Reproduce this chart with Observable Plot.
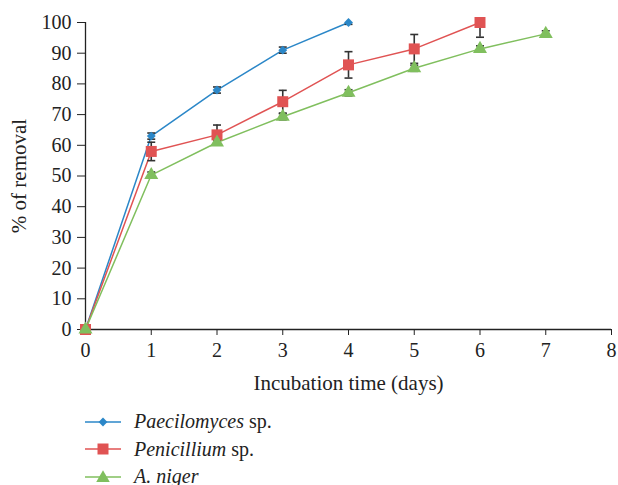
<!DOCTYPE html>
<html>
<head>
<meta charset="utf-8">
<script src="https://cdn.jsdelivr.net/npm/d3@7"></script>
<script src="https://cdn.jsdelivr.net/npm/@observablehq/plot@0.6"></script>
<style>
  html, body { margin: 0; padding: 0; background: #fff; }
  body { width: 618px; height: 485px; overflow: hidden; font-family: "Liberation Serif", serif; }
  #legend { position: relative; margin-left: 85px; margin-top: 8px; }
  .row { display: flex; align-items: center; height: 27.5px; font-size: 20px; color: #222; }
  .row svg { margin-right: 13px; }
</style>
</head>
<body>
<div id="chart"></div>
<div id="legend"></div>
<script>
const days = [0, 1, 2, 3, 4, 5, 6, 7];
const seriesNames = ["Paecilomyces", "Penicillium", "A. niger"];
const suffixes = [" sp.", " sp.", ""];
const colors = ["#2b87c8", "#e05353", "#80bf5e"];
const symbols = ["diamond2", "square", "triangle"];
const paecilomyces = [0, 63, 78, 91, 100];
const paecilomycesErr = [0, 1, 1, 1, 0.6];
const penicillium = [0, 58, 63.4, 74.2, 86.2, 91.4, 100];
const penicilliumErr = [0, 3, 3.2, 3.7, 4.3, 4.7, 4.8];
const aniger = [0, 50.3, 60.9, 69.3, 77.1, 85.1, 91.4, 96.3];
const anigerErr = [0, 1, 0.8, 1, 1, 1, 1, 1];
const xTicks = [0, 1, 2, 3, 4, 5, 6, 7, 8];
const yTicks = [0, 10, 20, 30, 40, 50, 60, 70, 80, 90, 100];

const values = [paecilomyces, penicillium, aniger];
const errs = [paecilomycesErr, penicilliumErr, anigerErr];
const data = [];
values.forEach((vals, s) => vals.forEach((v, i) => data.push({
  series: seriesNames[s], day: days[i], value: v, err: errs[s][i]
})));
const errData = data.filter(d => d.err > 0);

const capSymbol = {
  draw(context, size) {
    const w = Math.sqrt(size) / 2;
    context.moveTo(-w, 0);
    context.lineTo(w, 0);
  }
};

const chart = Plot.plot({
  width: 618,
  height: 400,
  marginLeft: 85,
  marginRight: 7,
  marginTop: 22,
  marginBottom: 71,
  style: { fontFamily: "Liberation Serif, serif", fontSize: "20px", color: "#222", background: "#fff" },
  x: { domain: [0, 8] },
  y: { domain: [0, 100] },
  color: { domain: seriesNames, range: colors },
  symbol: { domain: seriesNames, range: symbols },
  marks: [
    Plot.axisX({ ticks: xTicks, tickFormat: d => d, tickSize: 6, tickPadding: 7,
      label: null, fontSize: 20 }),
    Plot.axisX({ ticks: [], label: "Incubation time (days)", labelAnchor: "center", labelArrow: "none",
      labelOffset: 60, fontSize: 21 }),
    Plot.axisY({ ticks: yTicks, tickFormat: d => d, tickSize: 8, tickPadding: 6,
      label: null, fontSize: 20 }),
    Plot.axisY({ ticks: [], label: "% of removal", labelAnchor: "center", labelArrow: "none",
      labelOffset: 74, fontSize: 21 }),
    Plot.ruleY([0], { stroke: "#222", strokeWidth: 1.3 }),
    Plot.ruleX([0], { stroke: "#222", strokeWidth: 1.3 }),
    Plot.line(data, { x: "day", y: "value", z: "series", stroke: "series", strokeWidth: 1.5 }),
    Plot.ruleX(errData, { x: "day", y1: d => d.value - d.err, y2: d => d.value + d.err,
      stroke: "#333", strokeWidth: 1.6, clip: true }),
    Plot.dot(errData, { x: "day", y: d => d.value - d.err, symbol: capSymbol, r: 4.5,
      stroke: "#333", strokeWidth: 1.6, fill: "none" }),
    Plot.dot(errData.filter(d => d.value + d.err <= 100.5), { x: "day", y: d => d.value + d.err,
      symbol: capSymbol, r: 4.5, stroke: "#333", strokeWidth: 1.6, fill: "none" }),
    Plot.dot(data.filter(d => d.series === "Paecilomyces"), { x: "day", y: "value", symbol: "series",
      fill: "series", stroke: "none", r: 4 }),
    Plot.dot(data.filter(d => d.series === "Penicillium"), { x: "day", y: "value", symbol: "series",
      fill: "series", stroke: "none", r: 6.2 }),
    Plot.dot(data.filter(d => d.series === "A. niger"), { x: "day", y: "value", symbol: "series",
      fill: "series", stroke: "none", r: 5.2 })
  ]
});
document.getElementById("chart").appendChild(chart);

// legend
const legend = d3.select("#legend");
seriesNames.forEach((name, i) => {
  const row = legend.append("div").attr("class", "row");
  const svg = row.append("svg").attr("width", 36).attr("height", 16);
  svg.append("line").attr("x1", 0).attr("x2", 36).attr("y1", 8).attr("y2", 8)
    .attr("stroke", colors[i]).attr("stroke-width", 1.5);
  const sym = d3.symbol().type([d3.symbolDiamond2, d3.symbolSquare, d3.symbolTriangle][i])
    .size([50, 121, 80][i]);
  svg.append("path").attr("d", sym()).attr("transform", `translate(18,${i === 2 ? 9 : 8})`)
    .attr("fill", colors[i]);
  const label = row.append("span");
  label.append("i").text(name);
  label.append("span").text(suffixes[i]);
});
</script>
</body>
</html>
